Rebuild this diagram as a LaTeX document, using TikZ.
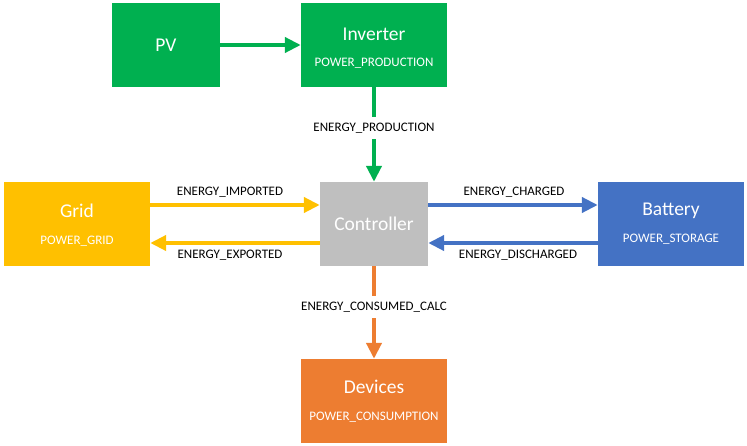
\documentclass[tikz,border=0pt]{standalone}
\usepackage{fontspec}
\setmainfont{Carlito}
\usetikzlibrary{arrows.meta}
\definecolor{cgreen}{HTML}{00B050}
\definecolor{cblue}{HTML}{4472C4}
\definecolor{corange}{HTML}{ED7D31}
\definecolor{cgold}{HTML}{FFC000}
\definecolor{cgray}{HTML}{BFBFBF}
\tikzset{
  blk/.style={draw=none, minimum width=146pt, minimum height=84pt, inner sep=0pt},
  ttl/.style={text=white, font=\fontsize{19.5}{22}\selectfont},
  sub/.style={text=white, font=\fontsize{13}{15}\selectfont},
  lbl/.style={text=black, font=\fontsize{13}{15}\selectfont, inner sep=1pt},
  gaplbl/.style={lbl, fill=white, inner ysep=6pt},
  flow/.style={line width=4.7pt, -{Triangle[length=16pt,width=15pt]}},
}
\begin{document}
\begin{tikzpicture}[x=1pt,y=-1pt]
\useasboundingbox (0,0) rectangle (747,446);
% boxes
\node[blk, fill=cgreen, minimum width=108pt] (pv) at (166,45) {};
\node[ttl] (pvt) at (166,45) {PV};
\node[blk, fill=cgreen] (inv) at (374,45) {};
\node[ttl] (invt) at (374,34) {Inverter};
\node[sub] (invs) at (374,63) {POWER\_PRODUCTION};
\node[blk, fill=cgold] (grid) at (77,224) {};
\node[ttl] (gridt) at (77,211) {Grid};
\node[sub] (grids) at (77,241) {POWER\_GRID};
\node[blk, fill=cgray, minimum width=108pt] (ctl) at (374,224) {};
\node[ttl] (ctlt) at (374,224) {Controller};
\node[blk, fill=cblue] (bat) at (671,224) {};
\node[ttl] (batt) at (671,211) {Battery};
\node[sub] (bats) at (671,239) {POWER\_STORAGE};
\node[blk, fill=corange] (dev) at (374,401) {};
\node[ttl] (devt) at (374,387) {Devices};
\node[sub] (devs) at (374,417) {POWER\_CONSUMPTION};
% arrows
\draw[flow, cgreen] (pv.east) -- (inv.west);
\draw[flow, cgreen] (inv.south) -- (ctl.north);
\node[gaplbl] (lprod) at (374,128) {ENERGY\_PRODUCTION};
\draw[flow, cgold] (grid.east |- 0,205) -- (ctl.west |- 0,205);
\draw[flow, cgold] (ctl.west |- 0,243) -- (grid.east |- 0,243);
\node[lbl] (limp) at (230,192) {ENERGY\_IMPORTED};
\node[lbl] (lexp) at (230,255) {ENERGY\_EXPORTED};
\draw[flow, cblue] (ctl.east |- 0,205) -- (bat.west |- 0,205);
\draw[flow, cblue] (bat.west |- 0,243) -- (ctl.east |- 0,243);
\node[lbl] (lchg) at (514,192) {ENERGY\_CHARGED};
\node[lbl] (ldis) at (518,255) {ENERGY\_DISCHARGED};
\draw[flow, corange] (ctl.south) -- (dev.north);
\node[gaplbl] (lcons) at (374,307) {ENERGY\_CONSUMED\_CALC};
\end{tikzpicture}
\end{document}
